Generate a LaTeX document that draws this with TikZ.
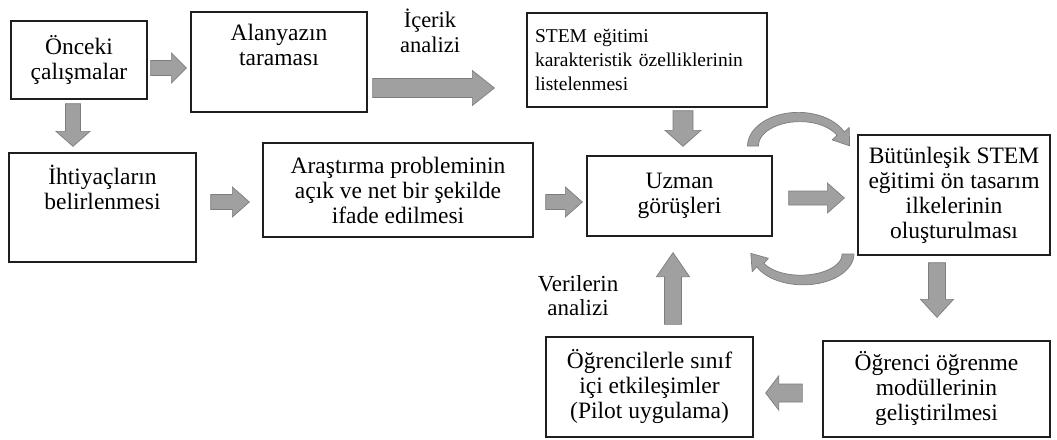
\documentclass[tikz,border=0pt]{standalone}
\usepackage{fontspec}
\setmainfont{Liberation Serif}
\usetikzlibrary{calc}

\definecolor{arrowfill}{RGB}{160,160,160}
\definecolor{arrowline}{RGB}{125,125,125}
\definecolor{boxline}{RGB}{30,30,30}

\tikzset{
  arrbody/.store in=\arrbody, arrhead/.store in=\arrhead, arrlen/.store in=\arrlen,
  arrbody=7.5, arrhead=15, arrlen=15,
  % straight block arrow drawn as a polygon from start to target
  blockarrow/.style={draw=arrowline, fill=arrowfill, line width=0.7pt, line join=miter,
    to path={let \p1=(\tikztostart), \p2=(\tikztotarget),
      \n1={atan2(\y2-\y1,\x2-\x1)}, \n2={veclen(\x2-\x1,\y2-\y1)} in
      {[shift={(\p1)}, rotate=\n1]
        (0,-\arrbody) -- (\n2-\arrlen,-\arrbody) -- (\n2-\arrlen,-\arrhead) -- (\n2,0)
        -- (\n2-\arrlen,\arrhead) -- (\n2-\arrlen,\arrbody) -- (0,\arrbody) -- cycle}}},
  box/.style={draw=boxline, line width=1.3pt, fill=white, inner sep=0pt, align=center,
    font=\fontsize{23.5}{25}\selectfont},
  txt/.style={inner sep=0pt, align=center, font=\fontsize{23.5}{25}\selectfont},
  lbl/.style={inner sep=0pt, align=center, font=\fontsize{22.5}{25}\selectfont},
  curved/.style={draw=arrowline, fill=arrowfill, line width=0.7pt, line join=round},
}

\begin{document}
\begin{tikzpicture}[x=1pt, y=-1pt]
\fill[white] (0,0) rectangle (1057,439);
\useasboundingbox (0,0) rectangle (1057,439);

% feedback loop between expert opinion and design principles
\coordinate (loopT) at (799,146);
\coordinate (loopB) at (802,254);
\begin{scope}[shift={(loopT)}]
  \filldraw[curved]
    plot[domain=180:25, samples=40, variable=\t]
      ({(50+1.5*(\t-25)/155)*cos(\t)}, {-(33+1.5*(\t-25)/155)*sin(\t)})
    -- (50.2,-18.5) -- (50.6,-0.2) -- (33.2,-6.1)
    -- plot[domain=25:180, samples=40, variable=\t]
      ({(42-1.5*(\t-25)/155)*cos(\t)}, {-(25-1.5*(\t-25)/155)*sin(\t)})
    -- cycle;
\end{scope}
\begin{scope}[shift={(loopB)}]
  \filldraw[curved]
    plot[domain=0:155, samples=40, variable=\t]
      ({(52-2*\t/155)*cos(\t)}, {(32-2*\t/155)*sin(\t)})
    -- (-49.8,17.7) -- (-51.2,-0.6) -- (-33.6,4.3)
    -- plot[domain=155:0, samples=40, variable=\t]
      ({(40+2*\t/155)*cos(\t)}, {(20+2*\t/155)*sin(\t)})
    -- cycle;
\end{scope}

% boxes
\node[box, minimum width=136, minimum height=78] (onceki) at (79,60) {Önceki\\çalışmalar};
\node[box, minimum width=176, minimum height=100] (alan) at (279,62) {};
\node[txt, anchor=north] (alanT) at ([shift={(0,13)}]alan.north) {Alanyazın\\taraması};
\node[box, minimum width=240, minimum height=94, text width=224, align=left,
      font=\fontsize{19.5}{24}\selectfont] (stem) at (647,60)
      {STEM eğitimi\\karakteristik özelliklerinin\\listelenmesi};
\node[box, minimum width=187, minimum height=109] (ihtiyac) at (102.5,207.5) {};
\node[txt, anchor=north] (ihtiyacT) at ([shift={(0,13)}]ihtiyac.north) {İhtiyaçların\\belirlenmesi};
\node[box, minimum width=270, minimum height=94] (arastirma) at (398,190)
      {Araştırma probleminin\\açık ve net bir şekilde\\ifade edilmesi};
\node[box, minimum width=185, minimum height=80] (uzman) at (679.5,196) {Uzman\\görüşleri};
\node[box, minimum width=192, minimum height=120] (butun) at (954,195)
      {Bütünleşik STEM\\eğitimi ön tasarım\\ilkelerinin\\oluşturulması};
\node[box, minimum width=227, minimum height=96] (ogrenci) at (936.5,389)
      {Öğrenci öğrenme\\modüllerinin\\geliştirilmesi};
\node[box, minimum width=207, minimum height=100] (pilot) at (649.5,387)
      {Öğrencilerle sınıf\\içi etkileşimler\\(Pilot uygulama)};

% labels on arrows
\node[lbl] (icerik) at (430,31) {İçerik\\analizi};
\node[lbl, font=\fontsize{23}{24}\selectfont] (veriler) at (578,296) {Verilerin\\analizi};

% block arrows
\draw[blockarrow, arrbody=7.5, arrhead=15, arrlen=15]
  ([shift={(3,8)}]onceki.east) to ([shift={(-4,6)}]alan.west);
\draw[blockarrow, arrbody=9.5, arrhead=17.5, arrlen=22]
  ([shift={(5,26)}]alan.east) to ([shift={(-32,28)}]stem.west);
\draw[blockarrow, arrbody=7.5, arrhead=17, arrlen=15]
  ([shift={(-6,4)}]onceki.south) to ([shift={(-29.5,-6)}]ihtiyac.north);
\draw[blockarrow, arrbody=7.5, arrhead=15, arrlen=17]
  ([shift={(14,-5.5)}]ihtiyac.east) to ([shift={(-13,12)}]arastirma.west);
\draw[blockarrow, arrbody=7.5, arrhead=15, arrlen=17]
  ([shift={(12,12)}]arastirma.east) to ([shift={(-4,6)}]uzman.west);
\draw[blockarrow, arrbody=10, arrhead=18, arrlen=16]
  ([shift={(36,3)}]stem.south) to ([shift={(3.5,-9)}]uzman.north);
\draw[blockarrow, arrbody=7, arrhead=15, arrlen=17]
  ([shift={(16,2)}]uzman.east) to ([shift={(-13,3)}]butun.west);
\draw[blockarrow, arrbody=8.5, arrhead=16.5, arrlen=18]
  ([shift={(-17,7)}]butun.south) to ([shift={(0.5,-23)}]ogrenci.north);
\draw[blockarrow, arrbody=9, arrhead=17, arrlen=13]
  ([shift={(-20,4)}]ogrenci.west) to ([shift={(12,6)}]pilot.east);
\draw[blockarrow, arrbody=8.5, arrhead=16.5, arrlen=24]
  ([shift={(23.5,-12)}]pilot.north) to ([shift={(-6.5,16)}]uzman.south);
\end{tikzpicture}
\end{document}
